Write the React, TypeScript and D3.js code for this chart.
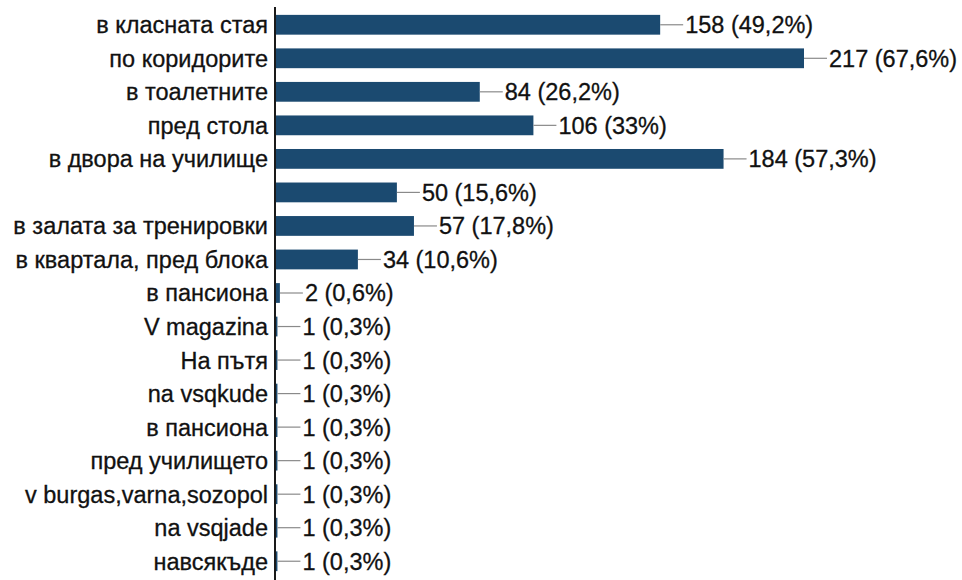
import { useEffect, useRef } from "react";
import * as d3 from "d3";

const categories = [
  "в класната стая",
  "по коридорите",
  "в тоалетните",
  "пред стола",
  "в двора на училище",
  "",
  "в залата за тренировки",
  "в квартала, пред блока",
  "в пансиона",
  "V magazina",
  "На пътя",
  "na vsqkude",
  "в пансиона",
  "пред училището",
  "v burgas,varna,sozopol",
  "na vsqjade",
  "навсякъде",
];

const counts = [158, 217, 84, 106, 184, 50, 57, 34, 2, 1, 1, 1, 1, 1, 1, 1, 1];

const percents = [
  "49,2%", "67,6%", "26,2%", "33%", "57,3%", "15,6%", "17,8%", "10,6%",
  "0,6%", "0,3%", "0,3%", "0,3%", "0,3%", "0,3%", "0,3%", "0,3%", "0,3%",
];

const W = 962;
const H = 580;
const FONT = "'Liberation Sans', Arial, sans-serif";

export default function App() {
  const ref = useRef<SVGSVGElement | null>(null);

  useEffect(() => {
    const svg = d3.select(ref.current!);
    svg.selectAll("*").remove();

    const x0 = 275;
    const x = d3.scaleLinear().domain([0, 217]).range([x0, 804]);
    const y = d3
      .scaleBand<number>()
      .domain(d3.range(categories.length))
      .range([8, 578])
      .paddingInner(0.41)
      .paddingOuter(0.205);

    const bh = y.bandwidth();
    const rows = svg
      .append("g")
      .selectAll("g")
      .data(counts)
      .join("g")
      .attr("transform", (_d, i) => `translate(0,${y(i)})`);

    rows
      .append("rect")
      .attr("x", x0)
      .attr("y", 0)
      .attr("width", (d) => x(d) - x0)
      .attr("height", bh)
      .attr("fill", "#1b4a70");

    rows
      .append("line")
      .attr("x1", (d) => x(d))
      .attr("x2", (d) => x(d) + 23)
      .attr("y1", bh / 2)
      .attr("y2", bh / 2)
      .attr("stroke", "#8a8a8a")
      .attr("stroke-width", 1.2);

    rows
      .append("text")
      .attr("x", (d) => x(d) + 25)
      .attr("y", bh / 2)
      .attr("dy", "0.36em")
      .attr("font-family", FONT)
      .attr("font-size", 23.5)
      .attr("fill", "#111")
      .attr("stroke", "#111")
      .attr("stroke-width", 0.3)
      .text((d, i) => `${d} (${percents[i]})`);

    rows
      .append("text")
      .attr("x", 268)
      .attr("y", bh / 2)
      .attr("dy", "0.36em")
      .attr("text-anchor", "end")
      .attr("font-family", FONT)
      .attr("font-size", 23.5)
      .attr("fill", "#111")
      .attr("stroke", "#111")
      .attr("stroke-width", 0.3)
      .text((_d, i) => categories[i]);

    svg
      .append("line")
      .attr("x1", x0)
      .attr("x2", x0)
      .attr("y1", 7)
      .attr("y2", H)
      .attr("stroke", "#1a1a1a")
      .attr("stroke-width", 2);
  }, []);

  return (
    <svg
      ref={ref}
      width={W}
      height={H}
      style={{ position: "absolute", left: 0, top: 0, background: "#fff" }}
    />
  );
}
